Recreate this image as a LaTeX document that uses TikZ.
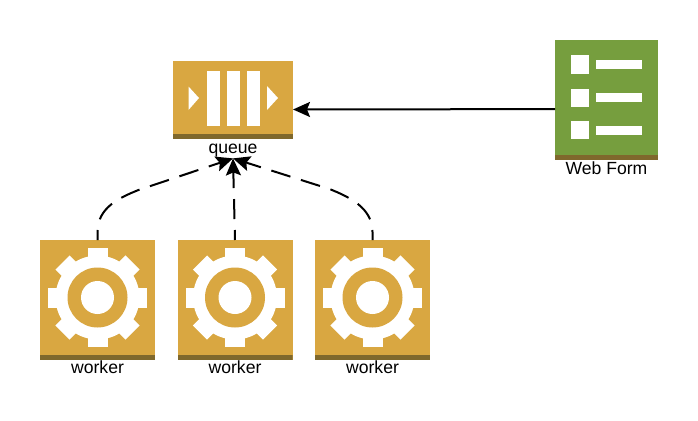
\documentclass[tikz,border=0pt]{standalone}
\usepackage{fontspec}
\setmainfont{Liberation Sans}
\usetikzlibrary{arrows.meta,positioning}
\definecolor{gold}{RGB}{217,167,65}
\definecolor{band}{RGB}{127,104,44}
\definecolor{leaf}{RGB}{118,158,62}
\begin{document}
\begin{tikzpicture}[x=1pt,y=-1pt,
  icon/.style={fill=#1,inner sep=0pt,outer sep=0pt,
    path picture={\fill[band] ([yshift=5pt]path picture bounding box.south west) rectangle (path picture bounding box.south east);}},
  caption/.style={inner sep=0pt,text height=11.5pt,text depth=4.5pt,font=\fontsize{17.6pt}{18pt}\selectfont},
  link/.style={line width=2pt,-{Stealth[length=17pt,width=15pt,inset=3pt]}},
  gap/.style={link,dash pattern=on 20pt off 11pt,dash phase=10pt}]
\useasboundingbox (0,0) rectangle (698,420);
\node[icon=gold,minimum width=120pt,minimum height=78pt] (queue) at (233,100) {};
\node[caption,below=3pt of queue] (queuetext) {queue};
\foreach \x in {206.5,226.5,247} \fill[white] (\x,70.5) rectangle +(13,55);
\fill[white] (188.5,86.5) -- (199,98) -- (188.5,110) -- cycle;
\fill[white] (267,86) -- (278,98) -- (267,110) -- cycle;
\node[icon=leaf,minimum width=103pt,minimum height=120pt] (form) at (606.5,100) {};
\node[caption,below=3pt of form] (formtext) {Web Form};
\foreach \y in {55.5,88.5,121}{
  \fill[white] (571,\y) rectangle +(18,18);
  \fill[white] (596,\y+4.5) rectangle +(46,9);}
\foreach \n/\x in {1/97.5,2/235,3/372.5}{
  \node[icon=gold,minimum width=115pt,minimum height=120pt] (worker\n) at (\x,300) {};
  \node[caption,below=2pt of worker\n] (workertext\n) {worker};
  \fill[white] (\x,297.5) circle (42pt);
  \foreach \a in {0,45,...,315}
    \fill[white,rotate around={\a:(\x,297.5)}] (\x-10,297.5-49.5) rectangle (\x+10,297.5-30);
  \fill[gold] (\x,297.5) circle (30pt);
  \fill[white] (\x,297.5) circle (16.5pt);}
\draw[link] (form.190.45) -- (queue.-9);
\draw[gap] (worker2.north) -- (queuetext.south);
\draw[gap] (worker1.north) -- ++(0,-8) .. controls +(0,-24) and +(-20,8) .. ++(41,-42) -- (queuetext.south);
\draw[gap] (worker3.north) -- ++(0,-8) .. controls +(0,-24) and +(20,8) .. ++(-43,-43) -- (queuetext.south);
\end{tikzpicture}
\end{document}
